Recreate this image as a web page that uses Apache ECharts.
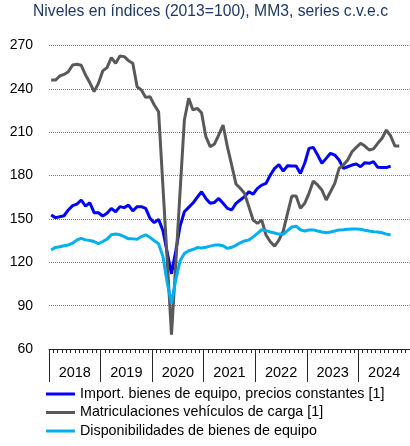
<!DOCTYPE html>
<html>
<head>
<meta charset="utf-8">
<title>Niveles en índices</title>
<script src="https://cdn.jsdelivr.net/npm/echarts@6.0.0/dist/echarts.min.js"></script>
<style>
  html, body { margin: 0; padding: 0; background: #fff; }
  #chart { width: 410px; height: 446px; }
</style>
</head>
<body>
<div id="chart"></div>
<script>
// años del eje (etiquetas) y meses como categorías
const years = ['2018', '2019', '2020', '2021', '2022', '2023', '2024']
const months = []
years.forEach((y) => {
  for (let m = 1; m <= 12; m++) {
    months.push(y + '-' + String(m).padStart(2, '0'))
  }
})

const seriesNames = [
  'Import. bienes de equipo, precios constantes [1]',
  'Matriculaciones vehículos de carga [1]',
  'Disponibilidades de bienes de equipo',
]

// ene-2018 .. ago-2024
const importBienes = [
  152.7, 150.9, 151.5, 152.2, 156.2, 159.2, 160.3, 163.1, 158.9, 161.2, 154.3, 154.3,
  152.0, 153.9, 157.3, 155.0, 158.5, 157.8, 159.6, 155.5, 158.5, 158.5, 157.3, 150.4,
  147.4, 149.7, 142.0, 127.0, 112.0, 128.0, 145.0, 155.0, 158.0, 161.0, 165.0, 168.8,
  164.2, 160.8, 161.4, 164.2, 160.8, 157.3, 156.2, 160.8, 163.1, 165.4, 168.8, 167.2,
  171.1, 173.4, 174.6, 180.4, 185.0, 187.6, 183.1, 186.8, 186.7, 186.6, 181.5, 188.5,
  198.8, 199.5, 194.2, 188.5, 191.9, 195.4, 194.2, 190.8, 185.0, 186.1, 187.3, 188.0,
  186.1, 188.9, 188.5, 189.6, 185.7, 185.6, 185.5, 186.6,
]

// ene-2018 .. oct-2024
const matriculaciones = [
  246.1, 246.1, 248.9, 250.0, 251.9, 256.5, 257.0, 256.3, 249.6, 244.3, 238.1, 243.8,
  252.4, 254.7, 261.6, 257.7, 262.7, 262.3, 259.5, 257.7, 241.5, 239.2, 234.1, 234.6,
  228.8, 224.2, 173.0, 122.0, 70.0, 119.0, 169.0, 218.4, 233.4, 225.4, 226.5, 223.5,
  206.9, 200.0, 201.8, 208.1, 215.0, 200.0, 187.3, 174.2, 171.2, 167.7, 158.5, 149.2,
  146.9, 149.2, 138.9, 134.2, 131.2, 135.4, 141.5, 153.9, 165.8, 165.8, 157.3, 160.8,
  167.7, 176.2, 173.5, 170.0, 163.1, 168.8, 174.6, 185.0, 187.3, 190.8, 196.5, 199.5,
  202.3, 200.4, 197.7, 198.5, 202.3, 205.8, 211.5, 207.4, 200.4, 200.4,
]

// ene-2018 .. ago-2024
const disponibilidades = [
  128.5, 130.3, 130.8, 131.5, 132.0, 133.2, 135.5, 136.6, 135.5, 135.1, 134.4, 132.8,
  134.4, 136.0, 139.0, 139.5, 139.0, 137.8, 136.2, 136.2, 136.0, 137.8, 139.0, 137.2,
  134.9, 132.8, 124.1, 106.0, 91.6, 108.0, 121.0, 126.0, 128.0, 128.8, 130.2, 129.9,
  130.4, 131.2, 131.9, 131.9, 131.4, 129.6, 130.4, 131.7, 133.5, 134.8, 135.4, 137.6,
  140.0, 142.5, 141.9, 141.0, 140.3, 139.5, 139.4, 141.9, 144.4, 145.0, 142.5, 141.6,
  142.3, 142.4, 141.6, 141.0, 140.5, 141.0, 141.6, 142.4, 142.5, 142.8, 143.0, 143.0,
  142.8, 142.2, 141.6, 141.2, 141.0, 140.4, 139.5, 138.9,
]

const colors = ['#0000FF', '#595959', '#00B0F0']
const font = '"Liberation Sans", Arial, sans-serif'

const chart = echarts.init(document.getElementById('chart'))

const lineSeries = (name, data, color) => ({
  name: name,
  type: 'line',
  xAxisIndex: 0,
  data: data,
  symbol: 'none',
  lineStyle: { width: 3, color: color },
  itemStyle: { color: color },
})

chart.setOption({
  animation: false,
  textStyle: { fontFamily: font },
  title: {
    text: 'Niveles en índices (2013=100), MM3, series c.v.e.c',
    left: 33,
    top: 4,
    padding: 0,
    textStyle: {
      color: '#1F3864',
      fontSize: 15.7,
      fontWeight: 'normal',
      fontFamily: font,
    },
  },
  grid: {
    left: 49,
    right: 0,
    top: 45.5,
    bottom: 97,
  },
  legend: {
    orient: 'vertical',
    left: 46,
    top: 387,
    padding: 0,
    icon: 'rect',
    itemWidth: 29,
    itemHeight: 3,
    itemGap: 4.5,
    data: seriesNames,
    textStyle: { fontSize: 14.3, color: '#000', fontFamily: font },
  },
  xAxis: [{
    type: 'category',
    data: months,
    boundaryGap: true,
    axisLine: { show: true, onZero: false, lineStyle: { color: '#262626', width: 1 } },
    axisTick: { show: true, interval: 0, length: 4, lineStyle: { color: '#262626' } },
    axisLabel: { show: false },
    splitLine: { show: false },
  }, {
    type: 'category',
    data: years,
    position: 'bottom',
    boundaryGap: true,
    axisLine: { show: false, onZero: false },
    axisTick: { show: true, interval: 0, length: 33, lineStyle: { color: '#262626' } },
    axisLabel: { interval: 0, margin: 16, fontSize: 14.5, color: '#000', fontFamily: font },
    splitLine: { show: false },
  }],
  yAxis: {
    type: 'value',
    min: 60,
    max: 270,
    interval: 30,
    axisLine: { show: false },
    axisTick: { show: false },
    axisLabel: { margin: 16, fontSize: 14, color: '#000', fontFamily: font },
    splitLine: { lineStyle: { type: 'dotted', color: '#7a7a7a', width: 1 } },
  },
  series: [
    lineSeries(seriesNames[0], importBienes, colors[0]),
    lineSeries(seriesNames[1], matriculaciones, colors[1]),
    lineSeries(seriesNames[2], disponibilidades, colors[2]),
  ],
})
</script>
</body>
</html>
